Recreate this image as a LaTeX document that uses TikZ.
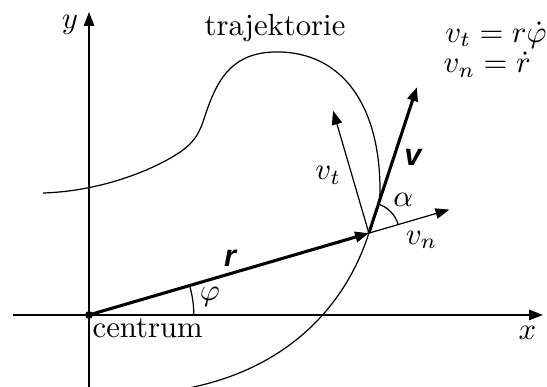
\documentclass[tikz,border=0pt]{standalone}
\usepackage{amsmath}
\usepackage{fontspec}
\newfontfamily\vecfont{Liberation Sans}
\usetikzlibrary{arrows.meta}

\begin{document}
\begin{tikzpicture}[>={Triangle[length=4.5pt,width=3.4pt]}]
\useasboundingbox (-1.02,-0.825) rectangle (5.246,3.608);

\coordinate (O) at (0,0);
\coordinate (P) at (16.3:3.34);

% axes
\draw[->] (-0.87,0) -- (5.2,0);
\draw[->] (0,-0.83) -- (0,3.47);
\node (xlab) at (5.02,-0.21) {$x$};
\node (ylab) at (-0.22,3.32) {$y$};

% trajectory
\draw (-0.53,1.397) .. controls (0.25,1.42) and (0.92,1.75) .. (1.12,1.925)
      .. controls (1.29,2.075) and (1.30,2.22) .. (1.37,2.40)
      .. controls (1.49,2.72) and (1.66,3.013) .. (2.153,3.013)
      .. controls (2.9,3.013) and (3.333,2.4) .. (3.333,1.43)
      .. controls (3.333,1.25) and (3.263,1.11) .. (P)
      .. controls (2.93,0.08) and (2.26,-0.61) .. (1.15,-0.835);
\node (traj) at (2.13,3.29) {trajektorie};

% vectors
\draw[line width=1pt,->] (O) -- (P);
\draw[->] (P) -- ++(16.3:0.96) coordinate (vn);
\draw[line width=1pt,->] (P) -- ++(71.8:1.76) coordinate (v);
\draw[->] (P) -- ++(106.3:1.46) coordinate (vt);
\fill (O) circle (0.045);

% angles
\draw (P) ++(16.3:0.35) arc[start angle=16.3,end angle=71.8,radius=0.35];
\draw (O) ++(1.2,0) arc[start angle=0,end angle=16.3,radius=1.2];

\node (rlab) at (1.615,0.653) {\vecfont\bfseries\itshape r};
\node (philab) at (1.386,0.206) {$\varphi$};
\node[anchor=north west,inner sep=1pt] (centrum) at (O) {centrum};
\node (vtlab) at (2.74,1.60) {$v_t$};
\node (vlab) at (3.71,1.80) {\vecfont\bfseries\itshape v};
\node (alpha) at (3.60,1.317) {$\alpha$};
\node (vnlab) at (3.81,0.86) {$v_n$};
\node[anchor=base west,inner sep=0pt] (eqt) at (4.075,3.125) {$v_t = r\dot\varphi$};
\node[anchor=base west,inner sep=0pt] (eqn) at (4.055,2.775) {$v_n = \dot r$};

\end{tikzpicture}
\end{document}
